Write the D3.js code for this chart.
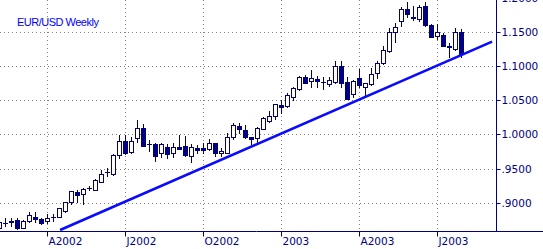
<!DOCTYPE html>
<html>
<head>
<meta charset="utf-8">
<script src="https://cdn.jsdelivr.net/npm/d3@7"></script>
<style>
  html, body { margin: 0; padding: 0; background: #fff; overflow: hidden; }
  svg { display: block; }
</style>
</head>
<body>
<div id="chart"></div>
<script>
// weekly EUR/USD candles, one per week
const opens = [0.8621, 0.8695, 0.8732, 0.8738, 0.8629, 0.8728, 0.8791, 0.8757, 0.8728, 0.8788,
  0.8791, 0.8879, 0.9003, 0.9150, 0.9121, 0.9215, 0.9188, 0.9306, 0.9440, 0.9415,
  0.9699, 0.9904, 0.9738, 0.9953, 1.0091, 0.9855, 0.9856, 0.9732, 0.9821, 0.9724,
  0.9812, 0.9831, 0.9684, 0.9797, 0.9797, 0.9782, 0.9871, 0.9724, 0.9732, 0.9959,
  1.0125, 1.0066, 0.9959, 0.9944, 1.0085, 1.0203, 1.0272, 1.0434, 1.0419, 1.0547,
  1.0665, 1.0850, 1.0791, 1.0812, 1.0775, 1.0743, 1.0777, 1.1007, 1.0777, 1.0596,
  1.0826, 1.0694, 1.0743, 1.0900, 1.1047, 1.1232, 1.1503, 1.1674, 1.1841, 1.1732,
  1.1694, 1.1890, 1.1610, 1.1449, 1.1463, 1.1302, 1.1253, 1.1512];
const highs = [0.8728, 0.8776, 0.8776, 0.8776, 0.8743, 0.8856, 0.8856, 0.8776, 0.8835, 0.8835,
  0.8924, 0.9012, 0.9175, 0.9184, 0.9218, 0.9247, 0.9345, 0.9478, 0.9512, 0.9709,
  0.9993, 0.9993, 0.9963, 1.0213, 1.0150, 0.9919, 0.9871, 0.9879, 0.9856, 0.9871,
  0.9993, 0.9978, 0.9860, 0.9846, 0.9871, 0.9930, 0.9879, 0.9797, 1.0018, 1.0165,
  1.0174, 1.0140, 0.9962, 1.0106, 1.0252, 1.0350, 1.0455, 1.0507, 1.0615, 1.0694,
  1.0860, 1.0875, 1.0949, 1.0860, 1.0841, 1.0850, 1.1081, 1.1085, 1.0841, 1.0802,
  1.0959, 1.0762, 1.0974, 1.1085, 1.1302, 1.1562, 1.1644, 1.1871, 1.1953, 1.1890,
  1.1904, 1.1953, 1.1625, 1.1625, 1.1488, 1.1341, 1.1562, 1.1547];
const lows = [0.8610, 0.8654, 0.8654, 0.8610, 0.8621, 0.8709, 0.8718, 0.8679, 0.8694, 0.8728,
  0.8785, 0.8865, 0.8974, 0.9012, 0.8974, 0.9184, 0.9180, 0.9300, 0.9394, 0.9405,
  0.9650, 0.9709, 0.9730, 0.9885, 0.9830, 0.9757, 0.9615, 0.9674, 0.9650, 0.9674,
  0.9780, 0.9684, 0.9600, 0.9724, 0.9724, 0.9772, 0.9684, 0.9684, 0.9724, 0.9930,
  1.0018, 0.9950, 0.9860, 0.9871, 1.0080, 1.0188, 1.0224, 1.0321, 1.0400, 1.0507,
  1.0654, 1.0753, 1.0694, 1.0694, 1.0665, 1.0713, 1.0762, 1.0694, 1.0518, 1.0556,
  1.0694, 1.0581, 1.0728, 1.0827, 1.1040, 1.1218, 1.1365, 1.1596, 1.1724, 1.1684,
  1.1674, 1.1596, 1.1435, 1.1400, 1.1300, 1.1135, 1.1243, 1.1144];
const closes = [0.8709, 0.8700, 0.8709, 0.8629, 0.8728, 0.8816, 0.8757, 0.8699, 0.8768, 0.8794,
  0.8915, 0.9003, 0.9169, 0.9110, 0.9199, 0.9218, 0.9327, 0.9415, 0.9444, 0.9699,
  0.9904, 0.9724, 0.9904, 1.0100, 0.9835, 0.9862, 0.9684, 0.9856, 0.9713, 0.9812,
  0.9791, 0.9699, 0.9812, 0.9777, 0.9777, 0.9871, 0.9724, 0.9757, 0.9959, 1.0140,
  1.0085, 0.9959, 0.9930, 1.0091, 1.0247, 1.0272, 1.0449, 1.0409, 1.0581, 1.0679,
  1.0850, 1.0762, 1.0826, 1.0791, 1.0778, 1.0802, 1.1007, 1.0753, 1.0527, 1.0791,
  1.0728, 1.0753, 1.0890, 1.1047, 1.1243, 1.1503, 1.1577, 1.1841, 1.1772, 1.1709,
  1.1879, 1.1610, 1.1438, 1.1503, 1.1302, 1.1282, 1.1512, 1.1184];

// bottom axis labels sit on these week indexes
const xTickWeeks = [8, 21, 34, 47, 60, 73];
const xTickLabels = ['A2002', 'J2002', 'O2002', '2003', 'A2003', 'J2003'];

const yTickValues = [0.90, 0.95, 1.00, 1.05, 1.10, 1.15, 1.20];
const yTickLabels = ['.9000', '.9500', '1.0000', '1.0500', '1.1000', '1.1500', '1.2000'];

// support line (week index, price)
const trendWeeks = [10.1, 82.1];
const trendPrices = [0.8596, 1.1365];

const width = 543, height = 249;
const axisX = 496.5, axisY = 231.5;
const navy = '#000080';

const svg = d3.select('#chart').append('svg')
  .attr('width', width)
  .attr('height', height);

const x = d3.scaleLinear().domain([0, 83]).range([-0.5, 497.5]);
const y = d3.scaleLinear().domain([0.85809, 1.19779]).range([231, 0]);

// grid
const grid = svg.append('g')
  .attr('stroke', '#808080')
  .attr('stroke-width', 1)
  .attr('stroke-dasharray', '1,3');

grid.selectAll('.hgrid')
  .data(yTickValues)
  .enter().append('line')
  .attr('x1', 0)
  .attr('x2', axisX)
  .attr('y1', d => Math.round(y(d)) + 0.5)
  .attr('y2', d => Math.round(y(d)) + 0.5);

grid.selectAll('.vgrid')
  .data(xTickWeeks)
  .enter().append('line')
  .attr('x1', d => Math.floor(x(d)) + 0.5)
  .attr('x2', d => Math.floor(x(d)) + 0.5)
  .attr('y1', 0)
  .attr('y2', axisY);

// candles
const candles = opens.map((o, i) => ({ i, o, h: highs[i], l: lows[i], c: closes[i] }));

const cg = svg.append('g');

candles.forEach(d => {
  const cx = Math.floor(x(d.i)) + 0.5;
  const yHi = Math.round(y(d.h));
  const yLo = Math.round(y(d.l));
  const yTop = Math.round(y(Math.max(d.o, d.c)));
  const yBot = Math.round(y(Math.min(d.o, d.c)));

  cg.append('line')
    .attr('x1', cx).attr('x2', cx)
    .attr('y1', yHi).attr('y2', yLo + 1)
    .attr('stroke', navy)
    .attr('stroke-width', 1);

  if (yBot - yTop < 2) {
    // doji style: just a short bar
    cg.append('rect')
      .attr('x', cx - 2.5)
      .attr('y', yTop)
      .attr('width', 5)
      .attr('height', Math.max(yBot - yTop, 1) + (d.c < d.o ? 1 : 0))
      .attr('fill', navy);
  } else if (d.c >= d.o) {
    cg.append('rect')
      .attr('x', cx - 2)
      .attr('y', yTop + 0.5)
      .attr('width', 4)
      .attr('height', yBot - yTop)
      .attr('fill', '#fff')
      .attr('stroke', navy)
      .attr('stroke-width', 1);
  } else {
    cg.append('rect')
      .attr('x', cx - 2.5)
      .attr('y', yTop)
      .attr('width', 5)
      .attr('height', yBot - yTop + 1)
      .attr('fill', navy);
  }
});

// trend line
svg.append('line')
  .attr('x1', x(trendWeeks[0]))
  .attr('y1', y(trendPrices[0]))
  .attr('x2', x(trendWeeks[1]))
  .attr('y2', y(trendPrices[1]))
  .attr('stroke', '#0a0aff')
  .attr('stroke-width', 2.6);

// axes
svg.append('line')
  .attr('x1', 0).attr('x2', width)
  .attr('y1', axisY).attr('y2', axisY)
  .attr('stroke', navy);

svg.append('line')
  .attr('x1', axisX).attr('x2', axisX)
  .attr('y1', 0).attr('y2', axisY)
  .attr('stroke', navy);

const xt = svg.selectAll('.xtick')
  .data(xTickWeeks)
  .enter().append('g')
  .attr('transform', d => `translate(${Math.floor(x(d)) + 0.5},${axisY})`);

xt.append('line')
  .attr('y1', 0).attr('y2', 5)
  .attr('stroke', navy);

xt.append('text')
  .attr('x', 1)
  .attr('y', 13.5)
  .attr('fill', navy)
  .style('font-family', 'DejaVu Sans, sans-serif')
  .style('font-size', '10.5px')
  .text((d, i) => xTickLabels[i]);

const yt = svg.selectAll('.ytick')
  .data(yTickValues)
  .enter().append('g')
  .attr('transform', d => `translate(${axisX},${Math.round(y(d)) + 0.5})`);

yt.append('line')
  .attr('x1', 0).attr('x2', 4)
  .attr('stroke', navy);

yt.append('text')
  .attr('x', 5)
  .attr('dy', '0.36em')
  .attr('fill', navy)
  .style('font-family', 'DejaVu Sans, sans-serif')
  .style('font-size', '10.5px')
  .text((d, i) => yTickLabels[i]);

// title
svg.append('text')
  .attr('x', 17)
  .attr('y', 25.5)
  .attr('fill', '#0000ff')
  .style('font-family', 'Liberation Sans, Arial, sans-serif')
  .style('font-size', '11px')
  .style('letter-spacing', '-0.5px')
  .text('EUR/USD Weekly');
</script>
</body>
</html>
